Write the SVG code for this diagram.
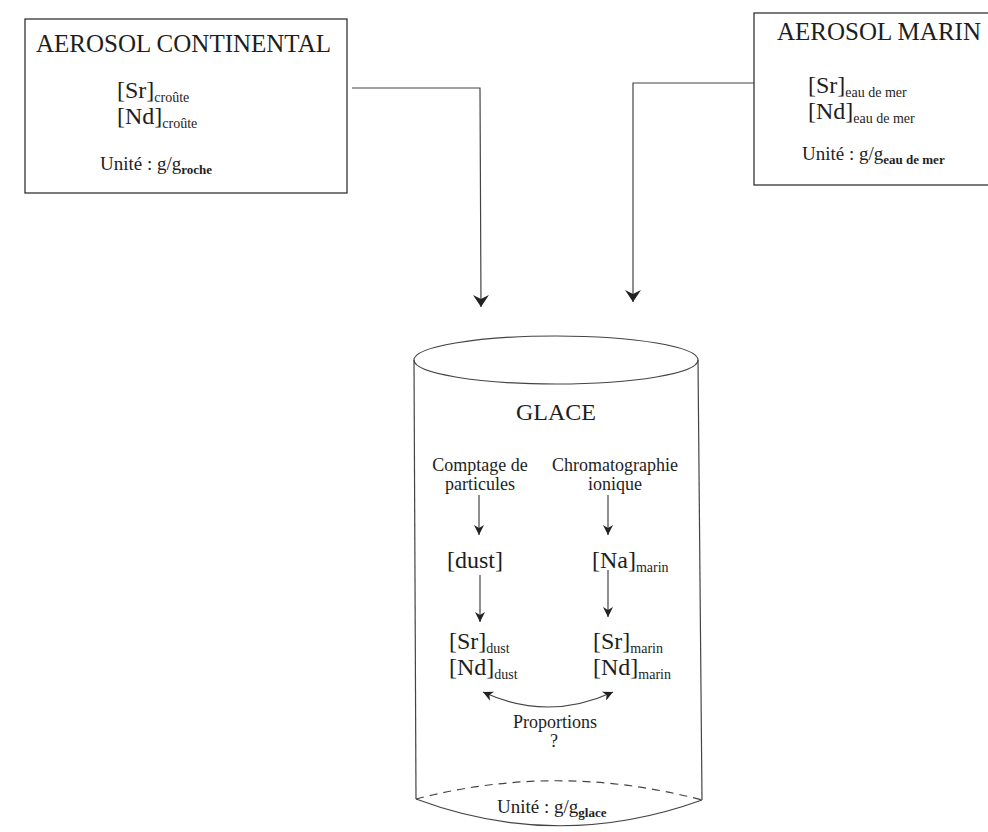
<svg xmlns="http://www.w3.org/2000/svg" width="988" height="832" viewBox="0 0 988 832">
<defs>
<style>
.box{fill:#fff;stroke:#333;stroke-width:1.3}
.ln{fill:none;stroke:#444;stroke-width:1.2}
text{font-family:"Liberation Serif","Times New Roman",serif;fill:#1e1e1e}
.t{font-size:25px}
.m{font-size:24px}
.s{font-size:14px}
.b{font-size:13px;font-weight:600}
.u{font-size:19px}
.l{font-size:18px}
</style>
<marker id="ah" viewBox="0 0 10 10" refX="10" refY="5" markerWidth="10" markerHeight="10" markerUnits="userSpaceOnUse" orient="auto">
<path d="M0,0 L10,5 L0,10 L3,5 z" fill="#222"/>
</marker>
<marker id="ahb" viewBox="0 0 12 16" refX="12" refY="8" markerWidth="12" markerHeight="16" markerUnits="userSpaceOnUse" orient="auto">
<path d="M0,0 L12,8 L0,16 L4,8 z" fill="#222"/>
</marker>
<marker id="ahs" viewBox="0 0 10 10" refX="10" refY="5" markerWidth="10" markerHeight="10" markerUnits="userSpaceOnUse" orient="auto-start-reverse">
<path d="M0,0 L10,5 L0,10 L3,5 z" fill="#222"/>
</marker>
</defs>
<rect width="988" height="832" fill="#fff"/>

<g id="continental">
<rect class="box" x="25" y="19" width="322" height="174"/>
<text class="t" x="36" y="52">AEROSOL CONTINENTAL</text>
<text class="m" x="117" y="98">[Sr]<tspan class="s" dy="4">croûte</tspan></text>
<text class="m" x="117" y="124">[Nd]<tspan class="s" dy="4">croûte</tspan></text>
<text class="u" x="100" y="170">Unité : g/g<tspan class="b" dy="4">roche</tspan></text>
</g>

<g id="marin">
<rect class="box" x="754" y="13" width="250" height="172"/>
<text class="t" x="777" y="40">AEROSOL MARIN</text>
<text class="m" x="808" y="93">[Sr]<tspan class="s" dy="4">eau de mer</tspan></text>
<text class="m" x="808" y="119">[Nd]<tspan class="s" dy="4">eau de mer</tspan></text>
<text class="u" x="802" y="160" font-size="20">Unité : g/g<tspan class="b" dy="4">eau de mer</tspan></text>
</g>

<g id="glace">
<path class="ln" d="M414,360 L416,799"/>
<path class="ln" d="M698,360 L702,800"/>
<ellipse class="ln" cx="556" cy="360" rx="142" ry="24" fill="#fff"/>
<path class="ln" d="M416,799 Q558,762 702,800" stroke-dasharray="8,6"/>
<path class="ln" d="M416,799 Q558,852 702,800"/>
<text class="m" x="556" y="420" text-anchor="middle">GLACE</text>
<text class="l" x="480" y="471" text-anchor="middle">Comptage de</text>
<text class="l" x="480" y="490" text-anchor="middle">particules</text>
<text class="l" x="615" y="471" text-anchor="middle">Chromatographie</text>
<text class="l" x="615" y="490" text-anchor="middle">ionique</text>
<text class="m" x="447" y="568">[dust]</text>
<text class="m" x="592" y="568">[Na]<tspan class="s" dy="4">marin</tspan></text>
<text class="m" x="449" y="649">[Sr]<tspan class="s" dy="4">dust</tspan></text>
<text class="m" x="449" y="675">[Nd]<tspan class="s" dy="4">dust</tspan></text>
<text class="m" x="593" y="649">[Sr]<tspan class="s" dy="4">marin</tspan></text>
<text class="m" x="593" y="675">[Nd]<tspan class="s" dy="4">marin</tspan></text>
<text class="l" x="555" y="728" text-anchor="middle">Proportions</text>
<text class="l" x="554" y="747" text-anchor="middle">?</text>
<text class="u" x="497" y="813">Unité : g/g<tspan class="b" dy="4">glace</tspan></text>
</g>

<g id="connectors">
<path class="ln" d="M352,88 L480,88 L481,307" marker-end="url(#ahb)"/>
<path class="ln" d="M754,83 L633,83 L633,302" marker-end="url(#ahb)"/>
<path class="ln" d="M479,495 L479,535" marker-end="url(#ah)"/>
<path class="ln" d="M608,495 L608,535" marker-end="url(#ah)"/>
<path class="ln" d="M480,575 L480,622" marker-end="url(#ah)"/>
<path class="ln" d="M608,570 L608,617" marker-end="url(#ah)"/>
<path class="ln" d="M483,692 Q548,722 613,692" marker-start="url(#ahs)" marker-end="url(#ahs)"/>
</g>
</svg>
